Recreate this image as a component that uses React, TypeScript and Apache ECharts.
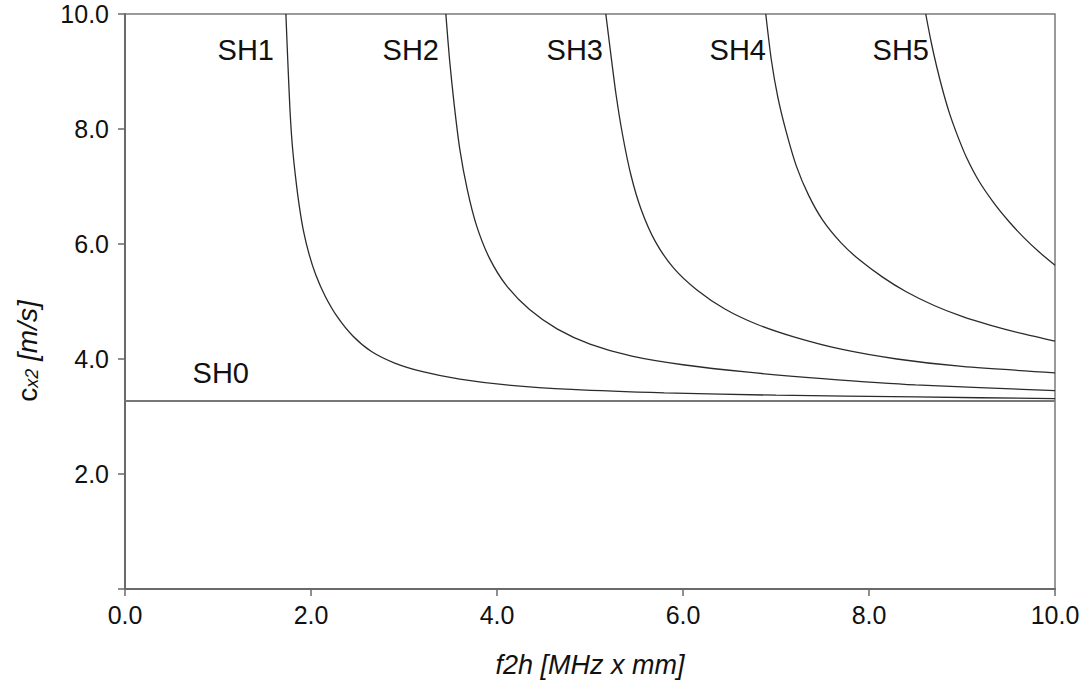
import React, { useEffect, useRef } from "react";
import * as echarts from "echarts";

// Dispersion curves (x = f2h [MHz x mm], y = c_x2 [m/s])
const sh0X = [0, 10];
const sh0Y = [3.27, 3.27];

const sh1X = [1.73, 1.75, 1.775, 1.8, 1.835, 1.875, 1.92, 1.98, 2.05, 2.15, 2.28, 2.45, 2.65, 2.9, 3.2, 3.6, 4.1, 4.8, 5.8, 7.0, 8.5, 10.0];
const sh1Y = [10.0, 9.2, 8.3, 7.7, 7.15, 6.65, 6.22, 5.82, 5.47, 5.1, 4.74, 4.4, 4.13, 3.93, 3.78, 3.65, 3.55, 3.47, 3.41, 3.37, 3.34, 3.31];

const sh2X = [3.45, 3.49, 3.54, 3.6, 3.68, 3.78, 3.92, 4.1, 4.35, 4.65, 5.0, 5.45, 6.0, 6.7, 7.5, 8.5, 10.0];
const sh2Y = [10.0, 9.2, 8.42, 7.65, 6.95, 6.32, 5.75, 5.28, 4.86, 4.52, 4.26, 4.05, 3.9, 3.77, 3.66, 3.55, 3.45];

const sh3X = [5.17, 5.22, 5.28, 5.35, 5.44, 5.55, 5.7, 5.9, 6.15, 6.45, 6.8, 7.2, 7.7, 8.3, 9.0, 10.0];
const sh3Y = [10.0, 9.35, 8.6, 7.9, 7.2, 6.6, 6.05, 5.58, 5.2, 4.87, 4.6, 4.38, 4.17, 4.0, 3.87, 3.76];

const sh4X = [6.89, 6.95, 7.02, 7.11, 7.22, 7.35, 7.5, 7.7, 7.9, 8.15, 8.4, 8.7, 9.0, 9.3, 9.65, 10.0];
const sh4Y = [10.0, 9.2, 8.55, 7.95, 7.35, 6.85, 6.42, 6.02, 5.72, 5.42, 5.17, 4.93, 4.74, 4.59, 4.44, 4.31];

const sh5X = [8.61, 8.67, 8.73, 8.8, 8.87, 8.96, 9.05, 9.18, 9.34, 9.5, 9.66, 9.83, 10.0];
const sh5Y = [10.0, 9.5, 9.07, 8.63, 8.25, 7.85, 7.5, 7.1, 6.72, 6.4, 6.12, 5.86, 5.63];

const curveNames = ["SH0", "SH1", "SH2", "SH3", "SH4", "SH5"];
const curveXs = [sh0X, sh1X, sh2X, sh3X, sh4X, sh5X];
const curveYs = [sh0Y, sh1Y, sh2Y, sh3Y, sh4Y, sh5Y];

const xTitle = "f2h [MHz x mm]";
const yTitleMain = "c";
const yTitleSub = "x2";
const yTitleUnit = " [m/s]";

export default function App() {
  const ref = useRef<HTMLDivElement>(null);

  useEffect(() => {
    document.body.style.margin = "0";
    const chart = echarts.init(ref.current!, null, { renderer: "svg" });
    const font = "'Liberation Sans', Arial, Helvetica, sans-serif";
    const axisColor = "#6a6a6a";

    const series = curveNames.map((name, i) => ({
      type: "line",
      name,
      data: curveXs[i].map((x, j) => [x, curveYs[i][j]]),
      showSymbol: false,
      smooth: i === 0 ? false : 0.25,
      silent: true,
      clip: true,
      lineStyle: i === 0 ? { color: "#777", width: 2 } : { color: "#2b2b2b", width: 1.3 },
    }));

    const labelPos: Array<[string, number, number]> = [
      ["SH1", 274, 50],
      ["SH2", 439, 50],
      ["SH3", 603, 50],
      ["SH4", 766, 50],
      ["SH5", 929, 50],
      ["SH0", 249, 373],
    ];

    const labels = labelPos.map(([t, x, y]) => ({
      type: "text",
      x,
      y,
      silent: true,
      style: {
        text: t,
        fontSize: 29,
        fontFamily: font,
        fill: "#111",
        align: "right",
        verticalAlign: "middle",
      },
    }));

    chart.setOption({
      animation: false,
      backgroundColor: "#fff",
      grid: {
        left: 125,
        right: 33,
        top: 14,
        bottom: 102,
        show: true,
        borderColor: "#7a7a7a",
        borderWidth: 1.5,
        backgroundColor: "transparent",
      },
      xAxis: {
        type: "value",
        min: 0,
        max: 10,
        interval: 2,
        axisLine: { onZero: false, lineStyle: { color: axisColor, width: 2 } },
        axisTick: { show: true, length: 7, lineStyle: { color: axisColor, width: 1.5 } },
        axisLabel: {
          formatter: (v: number) => v.toFixed(1),
          fontSize: 25,
          color: "#111",
          margin: 13,
          fontFamily: font,
        },
        splitLine: { show: false },
        name: xTitle,
        nameLocation: "middle",
        nameGap: 62,
        nameTextStyle: { fontSize: 27, fontStyle: "italic", color: "#111", fontFamily: font },
      },
      yAxis: {
        type: "value",
        min: 0,
        max: 10,
        interval: 2,
        axisLine: { show: true, onZero: false, lineStyle: { color: axisColor, width: 2 } },
        axisTick: { show: true, length: 7, lineStyle: { color: axisColor, width: 1.5 } },
        axisLabel: {
          formatter: (v: number) => (v === 0 ? "" : v.toFixed(1)),
          fontSize: 25,
          color: "#111",
          margin: 16,
          fontFamily: font,
        },
        splitLine: { show: false },
      },
      graphic: [
        ...labels,
        {
          type: "text",
          x: 27,
          y: 351,
          rotation: Math.PI / 2,
          silent: true,
          style: {
            text: `{c|${yTitleMain}}{s|${yTitleSub}}{u|${yTitleUnit}}`,
            align: "center",
            verticalAlign: "middle",
            fill: "#111",
            rich: {
              c: { fontSize: 28, fontFamily: font, fill: "#111", lineHeight: 28, verticalAlign: "top" },
              s: {
                fontSize: 18,
                fontStyle: "italic",
                fontFamily: font,
                fill: "#111",
                lineHeight: 18,
                verticalAlign: "bottom",
                padding: [14, 0, 0, 0],
              },
              u: { fontSize: 28, fontStyle: "italic", fontFamily: font, fill: "#111", lineHeight: 28, verticalAlign: "top" },
            },
          },
        },
      ],
      series,
    });

    return () => chart.dispose();
  }, []);

  return <div ref={ref} style={{ width: 1088, height: 691 }} />;
}
